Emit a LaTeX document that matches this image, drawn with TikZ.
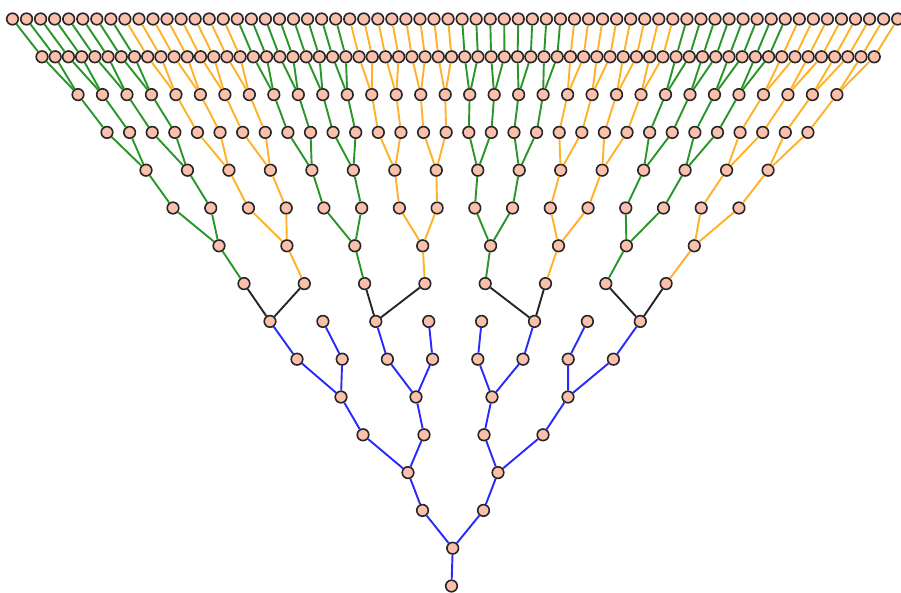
\documentclass[tikz,border=0pt]{standalone}
\definecolor{nodefill}{RGB}{250,192,172}
\definecolor{eblue}{RGB}{40,40,255}
\definecolor{egreen}{RGB}{40,150,40}
\definecolor{eorange}{RGB}{255,178,40}
\newcommand\mklevel[4]{%
  \foreach \j in {0,...,#2}{\node[vtx] (n#1-\j) at ({#3+#4*\j},{19+37.8*(15-#1)}) {};}}
\newcommand\pickcol[1]{%
  \ifnum#1=0 \def\ecol{egreen}\else\def\ecol{eorange}\fi}
\begin{document}
\begin{tikzpicture}[x=1pt,y=-1pt,
  vtx/.style={circle,draw=black!85,fill=nodefill,line width=1.6pt,minimum size=11.6pt,inner sep=0pt},
  edgeline/.style={line width=1.9pt}]
\useasboundingbox (0,0) rectangle (901,593);
% nodes
\node[vtx] (n0-0) at (451.5,{19+37.8*15}) {};
\node[vtx] (n1-0) at (452.7,{19+37.8*14}) {};
\node[vtx] (n2-0) at (422.5,{19+37.8*13}) {};
\node[vtx] (n2-1) at (483.5,{19+37.8*13}) {};
\node[vtx] (n3-0) at (408,{19+37.8*12}) {};
\node[vtx] (n3-1) at (498,{19+37.8*12}) {};
\node[vtx] (n4-0) at (363,{19+37.8*11}) {};
\node[vtx] (n4-1) at (424,{19+37.8*11}) {};
\node[vtx] (n4-2) at (484,{19+37.8*11}) {};
\node[vtx] (n4-3) at (543,{19+37.8*11}) {};
\node[vtx] (n5-0) at (341,{19+37.8*10}) {};
\node[vtx] (n5-1) at (416,{19+37.8*10}) {};
\node[vtx] (n5-2) at (492,{19+37.8*10}) {};
\node[vtx] (n5-3) at (568,{19+37.8*10}) {};
\mklevel{6}{7}{297}{45.2}
\mklevel{7}{7}{270}{52.9}
\mklevel{8}{7}{244}{60.3}
\mklevel{9}{7}{219}{67.9}
\mklevel{10}{15}{173}{37.73}
\mklevel{11}{15}{146}{41.47}
\mklevel{12}{31}{107}{22.61}
\mklevel{13}{31}{78}{24.48}
\mklevel{14}{63}{42}{13.21}
\mklevel{15}{63}{12.5}{14.05}
% blue part
\begin{scope}[edgeline,eblue]
\draw (n0-0) -- (n1-0);
\draw (n1-0) -- (n2-0);
\draw (n1-0) -- (n2-1);
\foreach \j in {0,1}{
  \pgfmathtruncatemacro\a{2*\j}\pgfmathtruncatemacro\b{2*\j+1}
  \draw (n2-\j) -- (n3-\j);
  \draw (n3-\j) -- (n4-\a);
  \draw (n3-\j) -- (n4-\b);}
\foreach \j in {0,...,3}{
  \pgfmathtruncatemacro\a{2*\j}\pgfmathtruncatemacro\b{2*\j+1}
  \draw (n4-\j) -- (n5-\j);
  \draw (n5-\j) -- (n6-\a);
  \draw (n5-\j) -- (n6-\b);}
\foreach \j in {0,...,7}{\draw (n6-\j) -- (n7-\j);}
\end{scope}
% black part
\begin{scope}[edgeline,black!85]
\foreach \p/\q in {0/0,2/1,5/2,7/3}{
  \pgfmathtruncatemacro\a{2*\q}\pgfmathtruncatemacro\b{2*\q+1}
  \draw (n7-\p) -- (n8-\a);
  \draw (n7-\p) -- (n8-\b);}
\end{scope}
% green / orange part
\foreach \j in {0,...,7}{
  \pgfmathtruncatemacro\g{mod(\j,2)}\pickcol{\g}
  \pgfmathtruncatemacro\a{2*\j}\pgfmathtruncatemacro\b{2*\j+1}
  \draw[edgeline,\ecol] (n8-\j) -- (n9-\j);
  \draw[edgeline,\ecol] (n9-\j) -- (n10-\a);
  \draw[edgeline,\ecol] (n9-\j) -- (n10-\b);}
\foreach \j in {0,...,15}{
  \pgfmathtruncatemacro\g{mod(int(\j/2),2)}\pickcol{\g}
  \pgfmathtruncatemacro\a{2*\j}\pgfmathtruncatemacro\b{2*\j+1}
  \draw[edgeline,\ecol] (n10-\j) -- (n11-\j);
  \draw[edgeline,\ecol] (n11-\j) -- (n12-\a);
  \draw[edgeline,\ecol] (n11-\j) -- (n12-\b);}
\foreach \j in {0,...,31}{
  \pgfmathtruncatemacro\g{mod(int(\j/4),2)}\pickcol{\g}
  \pgfmathtruncatemacro\a{2*\j}\pgfmathtruncatemacro\b{2*\j+1}
  \draw[edgeline,\ecol] (n12-\j) -- (n13-\j);
  \draw[edgeline,\ecol] (n13-\j) -- (n14-\a);
  \draw[edgeline,\ecol] (n13-\j) -- (n14-\b);}
\foreach \j in {0,...,63}{
  \pgfmathtruncatemacro\g{mod(int(\j/8),2)}\pickcol{\g}
  \draw[edgeline,\ecol] (n14-\j) -- (n15-\j);}
\end{tikzpicture}
\end{document}
